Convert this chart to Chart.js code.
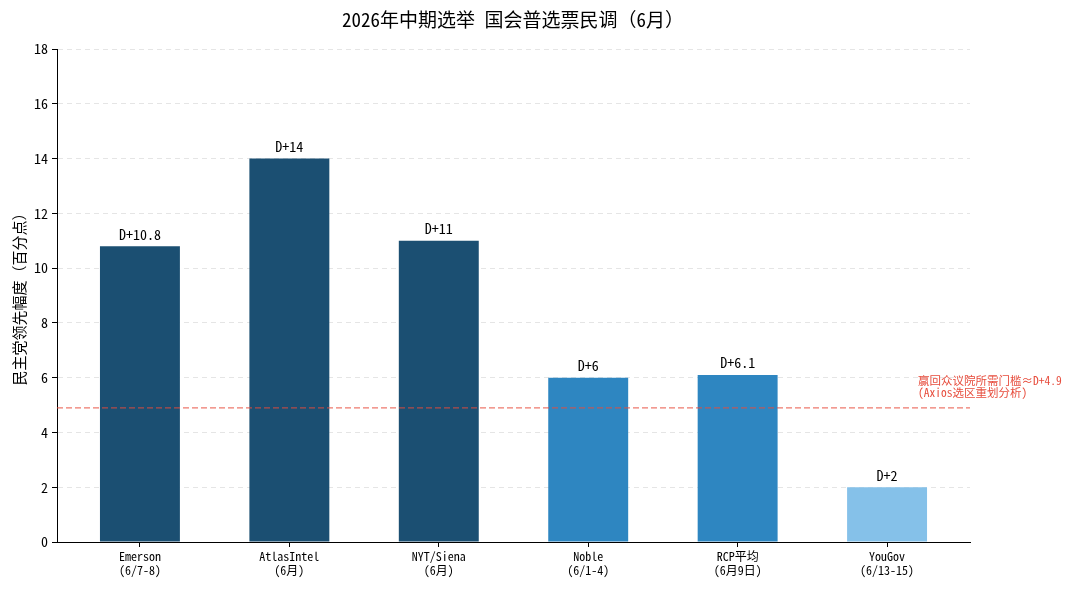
<!DOCTYPE html>
<html>
<head>
<meta charset="utf-8">
<script src="https://cdn.jsdelivr.net/npm/chart.js@4/dist/chart.umd.min.js"></script>
<style>
  html, body { margin: 0; padding: 0; background: #fff; }
  #wrap { width: 1080px; height: 591px; }
</style>
</head>
<body>
<div id="wrap"><canvas id="pollChart"></canvas></div>
<script>
var categories = [
    ['Emerson', '(6/7-8)'],
    ['AtlasIntel', '(6月)'],
    ['NYT/Siena', '(6月)'],
    ['Noble', '(6/1-4)'],
    ['RCP平均', '(6月9日)'],
    ['YouGov', '(6/13-15)']
];
var leadValues = [10.8, 14, 11, 6, 6.1, 2];
var threshold = 4.9;
var yTicks = [0, 2, 4, 6, 8, 10, 12, 14, 16, 18];

var barColors = ['#1b4f72', '#1b4f72', '#1b4f72', '#2e86c1', '#2e86c1', '#85c1e9'];
var MONO = '"Noto Sans Mono CJK SC", "DejaVu Sans Mono", "Noto Sans CJK SC", monospace';

var overlay = {
    id: 'overlay',
    afterDatasetsDraw: function (chart) {
        var ctx = chart.ctx;
        var area = chart.chartArea;
        var y = chart.scales.y;
        var meta = chart.getDatasetMeta(0);

        // threshold line
        var ty = y.getPixelForValue(threshold);
        ctx.save();
        ctx.strokeStyle = 'rgba(231, 76, 60, 0.75)';
        ctx.lineWidth = 1.3;
        ctx.setLineDash([6, 3]);
        ctx.beginPath();
        ctx.moveTo(area.left, ty);
        ctx.lineTo(area.right, ty);
        ctx.stroke();
        ctx.setLineDash([]);

        ctx.fillStyle = '#e74c3c';
        ctx.font = '11.5px ' + MONO;
        ctx.textAlign = 'left';
        ctx.textBaseline = 'middle';
        ctx.fillText('赢回众议院所需门槛≈D+4.9', 918, 381);
        ctx.fillText('(Axios选区重划分析)', 918, 393);

        // value labels
        ctx.fillStyle = '#000';
        ctx.font = '14px ' + MONO;
        ctx.textAlign = 'center';
        ctx.textBaseline = 'bottom';
        meta.data.forEach(function (bar, i) {
            ctx.fillText('D+' + leadValues[i], bar.x, bar.y - 5);
        });

        // title
        ctx.font = '19px ' + MONO;
        ctx.textBaseline = 'middle';
        ctx.fillText('2026年中期选举 国会普选票民调（6月）', 513, 20);
        ctx.restore();
    }
};

var pollChart = new Chart(document.getElementById('pollChart').getContext('2d'), {
    type: 'bar',
    data: {
        datasets: [{
            data: leadValues.map(function (v, i) { return { x: i, y: v }; }),
            backgroundColor: barColors,
            borderWidth: 0,
            barPercentage: 0.535,
            categoryPercentage: 1
        }]
    },
    options: {
        responsive: true,
        maintainAspectRatio: false,
        animation: false,
        layout: { padding: { top: 49, right: 110, left: 10, bottom: 0 } },
        plugins: {
            legend: { display: false },
            tooltip: { enabled: false }
        },
        scales: {
            x: {
                type: 'linear',
                offset: false,
                min: -0.555,
                max: categories.length - 1 + 0.555,
                afterBuildTicks: function (s) {
                    s.ticks = categories.map(function (c, i) { return { value: i }; });
                },
                grid: { offset: false, drawOnChartArea: false, drawTicks: true, tickLength: 5, tickColor: '#000' },
                border: { color: '#000', width: 1 },
                ticks: {
                    color: '#000',
                    font: { family: MONO, size: 12 },
                    maxRotation: 0,
                    padding: 2,
                    callback: function (v) { return categories[v]; }
                },
                afterFit: function (s) { s.height = 49; }
            },
            y: {
                min: 0,
                max: 18,
                afterBuildTicks: function (s) {
                    s.ticks = yTicks.map(function (v) { return { value: v }; });
                },
                grid: {
                    color: 'rgba(0,0,0,0.1)',
                    tickColor: '#000',
                    tickLength: 5,
                    drawTicks: true
                },
                border: { color: '#000', width: 1, dash: [5, 4] },
                ticks: {
                    color: '#000',
                    font: { family: MONO, size: 14 },
                    padding: 4
                },
                title: {
                    display: true,
                    text: '民主党领先幅度（百分点）',
                    color: '#000',
                    font: { family: MONO, size: 15 },
                    padding: { top: 0, bottom: 2 }
                },
                afterFit: function (s) { s.width = 47; }
            }
        }
    },
    plugins: [overlay]
});
</script>
</body>
</html>
